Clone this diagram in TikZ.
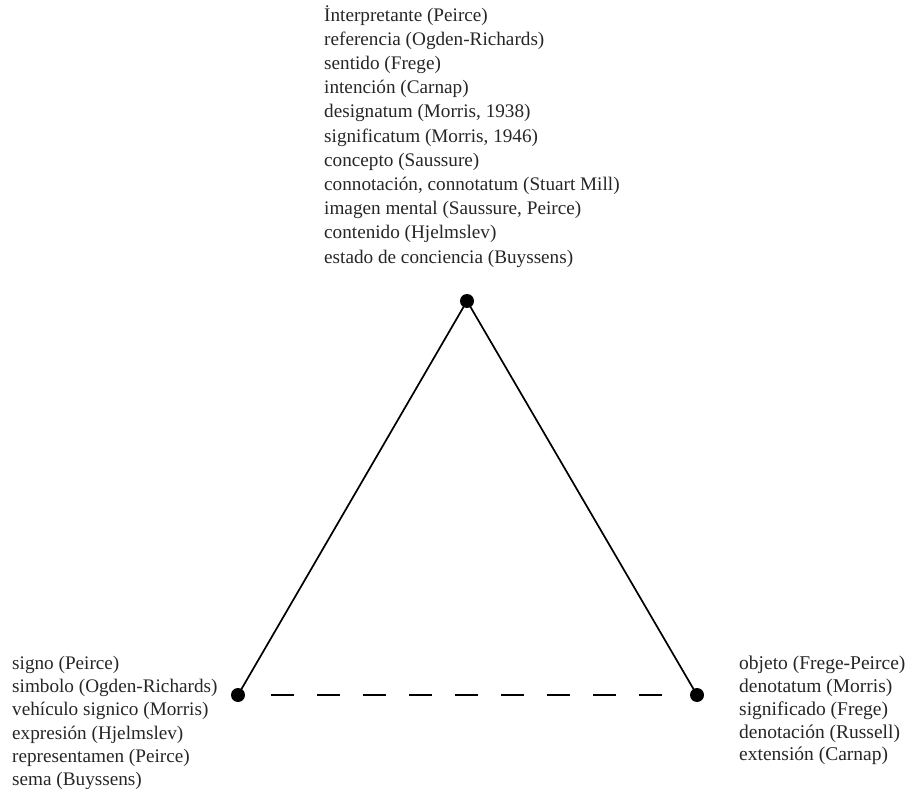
\documentclass[tikz,border=0pt]{standalone}
\usepackage{fontspec}
\setmainfont{Liberation Serif}
\begin{document}
\begin{tikzpicture}[x=1pt,y=-1pt,
  vertex/.style={circle,fill=black,inner sep=0pt,minimum size=14pt},
  lbl/.style={align=left,inner sep=0pt,anchor=north west,text=black!85},
  side/.style={line width=1.7pt},
  base/.style={line width=1.8pt,dash pattern=on 23pt off 23pt,shorten <=33pt,shorten >=33pt}]
\useasboundingbox (0,0) rectangle (906,789);
\node[vertex] (top) at (467,301) {};
\node[vertex] (left) at (238,695) {};
\node[vertex] (right) at (697,695) {};
\draw[side] (top.center) -- (left.center);
\draw[side] (top.center) -- (right.center);
\draw[base] (left.center) -- (right.center);
\node[lbl,font=\fontsize{19.2}{24.2}\selectfont] (toptext) at (324,5) {İnterpretante (Peirce)\\
referencia (Ogden-Richards)\\
sentido (Frege)\\
intención (Carnap)\\
designatum (Morris, 1938)\\
significatum (Morris, 1946)\\
concepto (Saussure)\\
connotación, connotatum (Stuart Mill)\\
imagen mental (Saussure, Peirce)\\
contenido (Hjelmslev)\\
estado de conciencia (Buyssens)};
\node[lbl,font=\fontsize{19.2}{23.2}\selectfont] (lefttext) at (12,656) {signo (Peirce)\\
simbolo (Ogden-Richards)\\
vehículo signico (Morris)\\
expresión (Hjelmslev)\\
representamen (Peirce)\\
sema (Buyssens)};
\node[lbl,font=\fontsize{19.5}{22.8}\selectfont] (righttext) at (739,656) {objeto (Frege-Peirce)\\
denotatum (Morris)\\
significado (Frege)\\
denotación (Russell)\\
extensión (Carnap)};
\end{tikzpicture}
\end{document}
